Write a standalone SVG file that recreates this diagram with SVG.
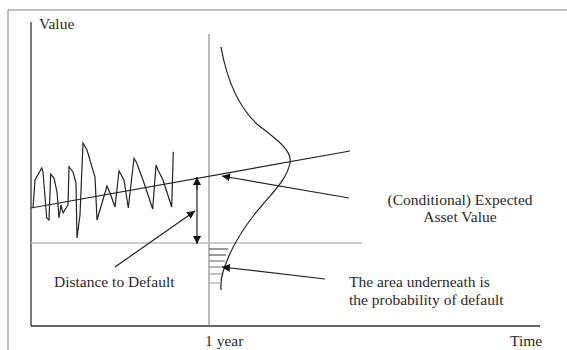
<svg xmlns="http://www.w3.org/2000/svg" width="567" height="350" viewBox="0 0 567 350">
<style>
text{font-family:"Liberation Serif","Times New Roman","DejaVu Serif",serif;font-size:15.5px;fill:#2a2a2a}
.ln{stroke:#222;stroke-width:1.2;fill:none}
.hatch{stroke:#555;stroke-width:1.2}
</style>
<defs>
<marker id="ah" viewBox="0 0 10 10" refX="10" refY="5" markerWidth="8" markerHeight="8" markerUnits="userSpaceOnUse" orient="auto">
<path d="M0,0 L10,5 L0,10 z" fill="#111"/>
</marker>
</defs>
<rect width="567" height="350" fill="#fff"/>
<g id="frame">
<path d="M8,10 H567 M8,10 V350" stroke="#aaa" stroke-width="1.5" fill="none"/>
</g>
<g id="axes" font-family="Liberation Serif, serif">
<line x1="31" y1="22" x2="31" y2="326" stroke="#333" stroke-width="1.3"/>
<line x1="31" y1="326" x2="540" y2="326" stroke="#333" stroke-width="1.3"/>
<line x1="209" y1="34" x2="209" y2="326" stroke="#777" stroke-width="1"/>
<line x1="31" y1="243" x2="362" y2="243" stroke="#bbb" stroke-width="1.3"/>
<text x="39" y="29">Value</text>
<text x="205" y="346">1 year</text>
<text x="510" y="346">Time</text>
</g>
<g id="series">
<polyline class="ln" stroke-width="1" points="33,208 35,180 41.7,168 43,172 46.7,218 49,220 50.7,174 54,178 57,192 59,218 61,205 63,213 66.7,207 68,205 69,166.7 73,172 76,183 77,238 80,215 83,143 87,150 95,177 97,220 107,186 110,193 115,207 119,171 124,180 128.3,208 134,158.3 136.7,163 143,180 152.7,209 156,165 158,170 163,180 171.7,207 173.3,151.7"/>
</g>
<g id="trend">
<line class="ln" x1="31" y1="208" x2="350" y2="151"/>
</g>
<g id="distribution">
<path class="ln" d="M221,47 C226,75 236,105 258,125 C282,143 292,152 290,163 C287,180 270,195 254,215 C240,233 228,255 223,272 C220,282 221,288 221,290"/>
<g class="hatch">
<line x1="209" y1="249" x2="228" y2="249"/>
<line x1="209" y1="255" x2="226" y2="255"/>
<line x1="209" y1="261" x2="225" y2="261" stroke="#777"/>
<line x1="209" y1="267" x2="223" y2="267" stroke="#888"/>
<line x1="209" y1="274" x2="222" y2="274" stroke="#999"/>
<line x1="209" y1="283" x2="221" y2="283" stroke="#aaa"/>
</g>
</g>
<g id="connectors">
<line class="ln" x1="349" y1="198" x2="222" y2="176" marker-end="url(#ah)"/>
<line class="ln" x1="325" y1="279" x2="222" y2="267" marker-end="url(#ah)"/>
<line class="ln" x1="115" y1="267" x2="195" y2="211" marker-end="url(#ah)"/>
<line class="ln" x1="197" y1="190" x2="197" y2="177" marker-end="url(#ah)"/>
<line class="ln" x1="197" y1="185" x2="197" y2="244" marker-end="url(#ah)"/>
</g>
<g id="labels" font-family="Liberation Serif, serif">
<text x="460" y="205" text-anchor="middle">(Conditional) Expected</text>
<text x="460" y="222" text-anchor="middle">Asset Value</text>
<text x="349" y="287">The area underneath is</text>
<text x="349" y="305">the probability of default</text>
<text x="54" y="287">Distance to Default</text>
</g>
</svg>
